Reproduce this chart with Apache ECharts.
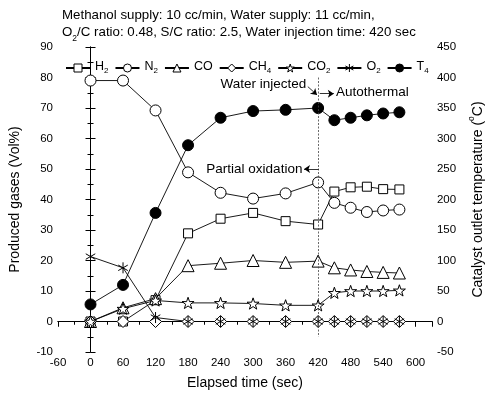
<!DOCTYPE html>
<html><head><meta charset="utf-8">
<script src="https://cdn.jsdelivr.net/npm/echarts@6/dist/echarts.min.js"></script>
<style>html,body{margin:0;padding:0;background:#fff}#c{width:493px;height:396px}</style>
</head><body><div id="c"></div>
<script>
const times = [0,60,120,180,240,300,360,420,450,480,510,540,570];
const H2  = [0,0,7,28.9,33.7,35.6,32.9,31.8,42.6,44,44.2,43.4,43.3];
const N2  = [79,79,69.2,48.9,42.2,40.3,42,45.6,38.9,37.3,35.9,36.4,36.7];
const CO  = [0,4.5,7.5,18.3,19.1,20,19.4,19.8,17.6,16.9,16.4,16.1,15.9];
const CH4 = [0,0,0,0,0,0,0,0,0,0,0,0,0];
const CO2 = [0,4.2,6.9,6.1,6.1,5.9,5.3,5.3,9.4,10,10,10,10.2];
const O2  = [21.3,17.6,1.3,0,0,0,0,0,0,0,0,0,0];
const T4  = [28,60,178,289,334,345,347,350,330,334,338,341,343];
const xTicks = [-60,630,60];
const yLeft = [-10,90,10];
const yRight = [-50,450,50];

const FONT = '"Liberation Sans", Arial, sans-serif';
const STAR = 'path://M50,0 L61.8,35.1 L98.1,34.5 L69.1,56.7 L79.4,90.5 L50,70 L20.6,90.5 L30.9,56.7 L1.9,34.5 L38.2,35.1 Z';
const AST = 'path://M5,0L5,10M0.67,2.5L9.33,7.5M0.67,7.5L9.33,2.5';

function pairs(arr){ return times.map((t,i)=>[t,arr[i]]); }
function mk(name, data, symbol, size, fill, yi, z){
  return {
    name, type:'line', data:pairs(data), yAxisIndex:yi||0,
    symbol, symbolSize:size, symbolKeepAspect:true, z:z||2,
    lineStyle:{color:'#000', width:0.9},
    itemStyle:{color:fill, borderColor:'#000', borderWidth:1, opacity:1},
    emphasis:{disabled:true}, animation:false
  };
}
const richMain = {fontSize:12.5, fontFamily:FONT, color:'#000', verticalAlign:'top', lineHeight:16};
const richSub = {fontSize:8, fontFamily:FONT, color:'#000', verticalAlign:'top', lineHeight:9, padding:[7,0,0,0]};
const titleMain = {fontSize:13.3, fontFamily:FONT, color:'#000', verticalAlign:'top', lineHeight:17};
const titleSub = {fontSize:8.5, fontFamily:FONT, color:'#000', verticalAlign:'top', lineHeight:9, padding:[8,0,0,0]};
const fills = {H2:'#fff', N2:'#fff', CO:'#fff', CH4:'#fff', CO2:'#fff', O2:'rgba(0,0,0,0)', T4:'#000'};
const series = [
  mk('H2', H2, 'rect', 9, fills.H2),
  mk('N2', N2, 'circle', 11, fills.N2),
  mk('CO', CO, 'triangle', 12, fills.CO),
  mk('CH4', CH4, 'diamond', 12, fills.CH4),
  mk('CO2', CO2, STAR, 12, fills.CO2),
  mk('O2', O2, AST, 11, fills.O2),
  mk('T4', T4, 'circle', 11, fills.T4, 1, 3)
];
series[1].markLine = {
  silent:true, animation:false, symbol:['none','arrow'], symbolSize:6,
  label:{show:false},
  lineStyle:{color:'#000', width:0.8, type:'solid'},
  data:[
    [{coord:[420,80], symbol:'none', lineStyle:{type:[2,1.5], color:'#444', width:0.8}},{coord:[420,-5], symbol:'none'}],
    [{coord:[401,77]},{coord:[418,74.3]}],
    [{coord:[423,74.7]},{coord:[449,74.7]}],
    [{coord:[421,50]},{coord:[394,50]}]
  ]
};

const legendOrder = ['H2','N2','CO','CH4','CO2','O2','T4'];
const legendNames = {H2:'{a|H}{s|2}', N2:'{a|N}{s|2}', CO:'{a|CO}', CH4:'{a|CH}{s|4}', CO2:'{a|CO}{s|2}', O2:'{a|O}{s|2}', T4:'{a|T}{s|4}'};
const axisLine = {lineStyle:{color:'#000', width:1}};
const lbl = {color:'#000', fontSize:11.5, fontFamily:FONT};

const chart = echarts.init(document.getElementById('c'), null, {renderer:'canvas'});
chart.setOption({
  animation:false,
  backgroundColor:'#fff',
  textStyle:{fontFamily:FONT},
  title:{
    left:57, top:4,
    text:'{a|Methanol supply: 10 cc/min, Water supply: 11 cc/min,}\n{a|O}{s|2}{a|/C ratio: 0.48, S/C ratio: 2.5, Water injection time: 420 sec}',
    textStyle:{fontSize:13.3, fontWeight:'normal', color:'#000',
      rich:{a:titleMain, s:titleSub}}
  },
  legend:{
    left:60, top:55, itemWidth:24, itemHeight:10, itemGap:6,
    data:legendOrder.map(n => ({name:n, itemStyle:{color:fills[n], borderColor:'#000', borderWidth:1}})),
    formatter: n => legendNames[n],
    textStyle:{fontSize:12.5, color:'#000',
      rich:{a:richMain, s:richSub}}
  },
  grid:{left:58, right:50, top:47, bottom:44},
  xAxis:[{
    type:'value', min:xTicks[0], max:xTicks[1], interval:xTicks[2],
    name:'Elapsed time (sec)', nameLocation:'middle', nameGap:24,
    nameTextStyle:{fontSize:14, color:'#000', fontFamily:FONT},
    axisLine:axisLine, axisTick:{show:true, length:5, lineStyle:{color:'#000'}},
    minorTick:{show:true, splitNumber:2, length:3, lineStyle:{color:'#000'}},
    splitLine:{show:false},
    axisLabel:Object.assign({margin:5, showMaxLabel:false}, lbl)
  },{
    type:'value', position:'top', min:xTicks[0], max:xTicks[1], interval:xTicks[2],
    axisLine:axisLine, axisTick:{show:true, inside:true, length:5, lineStyle:{color:'#000'}},
    minorTick:{show:true, splitNumber:2, length:3, lineStyle:{color:'#000'}},
    splitLine:{show:false}, axisLabel:{show:false}
  }],
  yAxis:[{
    type:'value', min:yLeft[0], max:yLeft[1], interval:yLeft[2],
    name:'Produced gases (Vol%)', nameLocation:'middle', nameGap:36, nameRotate:90,
    nameTextStyle:{fontSize:14, color:'#000', fontFamily:FONT},
    axisLine:Object.assign({show:true}, axisLine), axisTick:{show:true, length:5, lineStyle:{color:'#000'}},
    minorTick:{show:true, splitNumber:2, length:3, lineStyle:{color:'#000'}},
    splitLine:{show:false}, axisLabel:Object.assign({margin:5}, lbl)
  },{
    type:'value', position:'right', min:yRight[0], max:yRight[1], interval:yRight[2],
    name:'{a|Catalyst outlet temperature (}{s|o}{a|C)}', nameLocation:'middle', nameGap:30, nameRotate:90,
    nameTextStyle:{fontSize:14, color:'#000', fontFamily:FONT,
      rich:{a:{fontSize:14, fontFamily:FONT, color:'#000', verticalAlign:'top', lineHeight:16, padding:[4,0,0,0]},
            s:{fontSize:8.5, fontFamily:FONT, color:'#000', verticalAlign:'top', lineHeight:9}}},
    axisLine:Object.assign({show:true}, axisLine), axisTick:{show:true, length:5, lineStyle:{color:'#000'}},
    minorTick:{show:true, splitNumber:2, length:3, lineStyle:{color:'#000'}},
    splitLine:{show:false}, axisLabel:Object.assign({margin:5}, lbl)
  }],
  series
});

const notes = [
  {text:'Water injected', at:[398,77.8], align:'right'},
  {text:'Autothermal', at:[453,75], align:'left'},
  {text:'Partial oxidation', at:[391,50], align:'right'}
];
chart.setOption({
  graphic: notes.map(n => {
    const p = chart.convertToPixel({xAxisIndex:0, yAxisIndex:0}, n.at);
    return {type:'text', x:p[0], y:p[1], silent:true, z:10,
      style:{text:n.text, fill:'#000', font:'13.5px ' + FONT, textAlign:n.align, textVerticalAlign:'middle'}};
  })
});
</script></body></html>
